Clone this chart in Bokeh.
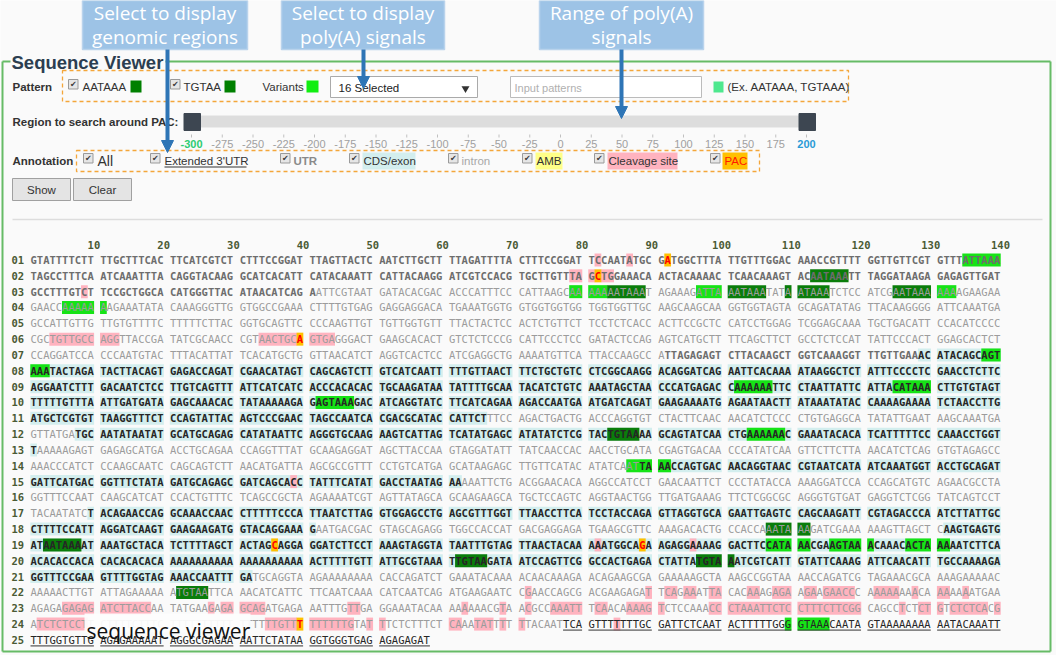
#!/usr/bin/python3

from bokeh.plotting import figure
from bokeh.models import Range1d, ColumnDataSource, Arrow, NormalHead
from bokeh.core.properties import value
from bokeh.embed import file_html
from bokeh.resources import INLINE

SANS = "Liberation Sans"
MONO = "DejaVu Sans Mono"
CALLOUT = "Open Sans"

# ---- sequence, 140 nt per row, shown in groups of 10 ----
seq_rows = [
	"GTATTTTCTT TTGCTTTCAC TTCATCGTCT CTTTCCGGAT TTAGTTACTC AATCTTGCTT TTAGATTTTA CTTTCCGGAT TCCAATATGC GATGGCTTTA TTGTTTGGAC AAACCGTTTT GGTTGTTCGT GTTTATTAAA",
	"TAGCCTTTCA ATCAAATTTA CAGGTACAAG GCATCACATT CATACAAATT CATTACAAGG ATCGTCCACG TGCTTGTTTA GCTGGAAACA ACTACAAAAC TCAACAAAGT ACAATAAATT TAGGATAAGA GAGAGTTGAT",
	"GCCTTTGTCT TCCGCTGGCA CATGGGTTAC ATAACATCAG AATTCGTAAT GATACACGAC ACCCATTTCC CATTAAGCAA AAAAATAAAT AGAAAGATTA AATAAATATA ATAAATCTCC ATCGAATAAA AAAAGAAGAA",
	"GAACCAAAAA AAGAAATATA CAAAGGGTTG GTGGCCGAAA CTTTTGTGAG GAGGAGGACA TGAAATGGTG GTGGTGGTGG TGGTGGTTGC AAGCAAGCAA GGTGGTAGTA GCAGATATAG TTACAAGGGG ATTCAAATGA",
	"GCCATTGTTG TTGTGTTTTC TTTTTCTTAC GGTGCAGTTC CCCAAGTTGT TGTTGGTGTT TTACTACTCC ACTCTGTTCT TCCTCTCACC ACTTCCGCTC CATCCTGGAG TCGGAGCAAA TGCTGACATT CCACATCCCC",
	"CGCTGTTGCC AGGTTACCGA TATCGCAACC CGTAACTGCA GTGAGGGACT GAAGCACACT GTCTCTCCCG CATTCCCTCC GATACTCCAG AGTCATGCTT TTCAGCTTCT GCCTCTCCAT TATTCCCACT GGAGCACTCT",
	"CCAGGATCCA CCCAATGTAC TTTACATTAT TCACATGCTG GTTAACATCT AGGTCACTCC ATCGAGGCTG AAAATGTTCA TTACCAAGCC ATTAGAGAGT CTTACAAGCT GGTCAAAGGT TTGTTGAAAC ATACAGCAGT",
	"AAATACTAGA TACTTACAGT GAGACCAGAT CGAACATAGT CAGCAGTCTT GTCATCAATT TTTGTTAACT TTCTGCTGTC CTCGGCAAGG ACAGGATCAG AATTCACAAA ATAAGGCTCT ATTTCCCCTC GAACCTCTTC",
	"AGGAATCTTT GACAATCTCC TTGTCAGTTT ATTCATCATC ACCCACACAC TGCAAGATAA TATTTTGCAA TACATCTGTC AAATAGCTAA CCCATGAGAC CAAAAAATTC CTAATTATTC ATTACATAAA CTTGTGTAGT",
	"TTTTTGTTTA ATTGATGATA GAGCAAACAC TATAAAAAGA GAGTAAAGAC ATCAGGTATC TTCATCAGAA AGACCAATGA ATGATCAGAT GAAGAAAATG AGAATAACTT ATAAATATAC CAAAAGAAAA TCTAACCTTG",
	"ATGCTCGTGT TAAGGTTTCT CCAGTATTAC AGTCCCGAAC TAGCCAATCA CGACGCATAC CATTCTTTCC AGACTGACTG ACCCAGGTGT CTACTTCAAC AACATCTCCC CTGTGAGGCA TATATTGAAT AAGCAAATGA",
	"GTTATGATGC AATATAATAT GCATGCAGAG CATATAATTC AGGGTGCAAG AAGTCATTAG TCATATGAGC ATATATCTCG TACTGTAAAA GCAGTATCAA CTGAAAAAAC GAAATACACA TCATTTTTCC CAAACCTGGT",
	"TAAAAAGAGT GAGAGCATGA ACCTGCAGAA CCAGGTTTAT GCAAGAGGAT AGCTTACCAA GTAGGATATT TATCAACCAC AACCTGCATA CGAGTGACAA CCCATATCAA GTTCTTCTTA AACATCTCAG GTGTAGAGCC",
	"AAACCCATCT CCAAGCAATC CAGCAGTCTT AACATGATTA AGCGCCGTTT CCTGTCATGA GCATAAGAGC TTGTTCATAC ATATCAATTA AACCAGTGAC AACAGGTAAC CGTAATCATA ATCAAATGGT ACCTGCAGAT",
	"GATTCATGAC GGTTTCTATA GATGCAGAGC GATCAGCACC TATTTCATAT GACCTAATAG AAAAATTCTG ACGGAACACA AGGCCATCCT GAACAATTCT CCCTATACCA AAAGGATCCA CCAGCATGTC AGAACGCCTA",
	"GGTTTCCAAT CAAGCATCAT CCACTGTTTC TCAGCCGCTA AGAAAATCGT AGTTATAGCA GCAAGAAGCA TGCTCCAGTC AGGTAACTGG TTGATGAAAG TTCTCGGCGC AGGGTGTGAT GAGGTCTCGG TATCAGTCCT",
	"TACAATATCT ACAGAACCAG GCAAACCAAC CTTTTTCCCA TTAATCTTAG GTGGAGCCTG AGCGTTTGGT TTAACCTTCA TCCTACCAGA GTTAGGTGCA GAATTGAGTC CAGCAAGATT CGTAGACCCA ATCTTATTGC",
	"CTTTTCCATT AGGATCAAGT GAAGAAGATG GTACAGGAAA GAATGACGAC GTAGCAGAGG TGGCCACCAT GACGAGGAGA TGAAGCGTTC AAAGACACTG CCACCAAATA AAGATCGAAA AAAGTTAGCT CAAGTGAGTG",
	"ATAATAAAAT AAATGCTACA TCTTTTAGCT ACTAGCAGGA GGATCTTCCT AAAGTAGGTA TAATTTGTAG TTAACTACAA AAATGGCAGA AGAGGAAAAG GACTTCCATA AACGAAGTAA ACAAACACTA AAAATCTTCA",
	"ACACACCACA CACACACACA AAAAAAAAAA AAAAAAAAAA ACTTTTTGTT ATTGCGTAAA TTGTAAGATA ATCCAGTTCG GCCACTGAGA CTATTATGTA AATCGTCATT GTATTCAAAG ATTCAACATT TGCCAAAAGA",
	"GGTTTCCGAA GTTTTGGTAG AAACCAATTT GATGCAGGTA AGAAAAAAAA CACCAGATCT GAAATACAAA ACAACAAAGA ACAGAAGCGA GAAAAAGCTA AAGCCGGTAA AACCAGATCG TAGAAACGCA AAAGAAAAAC",
	"AAAAACTTGT ATTAGAAAAA ATGTAATTCA AACATCATTC TTCAATCAAA CATCAATCAG ATGAAGAATC CGAACCAGCG ACGAAGAGAT TCAGAAATTA CACAAAGAGA AGAAGAACCC AAAAAAAACA AAAAAATGAA",
	"AGAGAGAGAG ATCTTACCAA TATGAAGAGA GCAGATGAGA AATTTGTTGA GGAAATACAA AAAAAACGTA ACGCCAAATT TCAACAAAAG TCTCCAAACC CTAAATTCTC CTTTCTTCGG CAGCCTCTCT GTCTCTCACG",
	"ATCTCTCCTT CTTTTCTTTC TTTTTTTTTT TTTTTTGTTT TTTTTTGTAT TTCTCTTTCT CAAATATTTT TTACAATTCA GTTTTTTTGC GATTCTCAAT ACTTTTTGGG GTAAACAATA GTAAAAAAAA AATACAAATT",
	"TTTGGTGTTG AGAGAAAAAT AGGGCGAGAA AATTCTATAA GGTGGGTGAG AGAGAGAT",
]

# annotation spans: (row, first col, last col), 0-based, inclusive
utr_spans = [(1, 0, 139), (2, 0, 139), (3, 0, 40), (7, 91, 127)]
cds_spans = [(7, 128, 139), (8, 0, 139), (9, 0, 139), (10, 0, 139), (11, 0, 65), (12, 7, 139),
	(13, 0, 0), (14, 88, 139), (15, 0, 61), (17, 9, 139), (18, 0, 40), (18, 131, 139),
	(19, 0, 139), (20, 0, 139), (21, 0, 31)]
ext_utr_spans = [(24, 77, 139), (25, 0, 57)]

# poly(A) signals
signal_hits = [(2, 112, 117), (3, 83, 88), (3, 100, 105), (3, 109, 114), (3, 124, 129), (12, 83, 87),
	(18, 106, 111), (19, 2, 7), (20, 61, 65), (20, 96, 100), (22, 21, 25)]
variant_hits = [(1, 134, 139), (3, 78, 82), (3, 96, 99), (3, 130, 132), (4, 5, 10), (7, 137, 139),
	(8, 0, 2), (9, 101, 106), (9, 124, 129), (10, 41, 46), (12, 103, 108), (14, 86, 91),
	(19, 106, 111), (19, 115, 120), (19, 126, 131), (24, 109, 114)]
cleavage_hits = [(1, 81, 81), (1, 86, 86), (2, 78, 80), (2, 82, 83), (3, 8, 8), (6, 3, 12),
	(6, 33, 38), (6, 40, 43), (15, 38, 38), (19, 81, 81), (19, 95, 95),
	(22, 71, 71), (22, 89, 89), (22, 91, 92), (22, 94, 95), (22, 98, 99), (22, 103, 104),
	(22, 107, 109), (22, 111, 112), (22, 114, 118), (22, 121, 124), (22, 127, 127),
	(22, 130, 131), (22, 134, 134),
	(23, 5, 9), (23, 10, 17), (23, 26, 26), (23, 28, 33), (23, 46, 47), (23, 62, 62),
	(23, 68, 68), (23, 71, 71), (23, 75, 79), (23, 81, 82), (23, 86, 90), (23, 98, 119),
	(23, 125, 125), (23, 128, 130), (23, 132, 137), (23, 139, 139),
	(24, 1, 8), (24, 34, 38), (24, 40, 46), (24, 49, 50), (24, 60, 61), (24, 64, 66),
	(24, 68, 68), (24, 70, 70), (24, 84, 84)]
pac_sites = [(1, 91), (2, 81), (6, 39), (19, 35), (19, 88), (24, 39)]

col_labels = [10, 20, 30, 40, 50, 60, 70, 80, 90, 100, 110, 120, 130, 140]
row_labels = ["%02d" % (i + 1) for i in range(len(seq_rows))]
slider_ticks = [-300, -275, -250, -225, -200, -175, -150, -125, -100, -75, -50, -25,
	0, 25, 50, 75, 100, 125, 150, 175, 200]
slider_sel = (-300, 200)

callouts = [["Select to display", "genomic regions"],
	["Select to display", "poly(A) signals"],
	["Range of poly(A)", "signals"]]

colors = {
	'utr': "#6d6d6d", 'intron': "#9c9c9c", 'cds': "#262626", 'ext': "#262626", 'pac': "#ff0000",
	'cds_bg': "#d3eeee", 'signal': "#0a7d0a", 'variant': "#16e316", 'cleavage': "#ffb3bf",
	'pac_bg': "#ffc000", 'amb': "#ffff88", 'frame': "#66bb66", 'orange': "#f4a63a",
	'callout': "#9dc3e6", 'arrow': "#2e75b6", 'num': "#4a5a34",
}

# grid of the sequence viewer (screen pixels of the page)
X0, CW = 30.0, 6.34
Y0, DY = 259.0, 15.83

def cx(i):
	return X0 + (i + i // 10) * CW

def ry(r):
	return Y0 + (r - 1) * DY

def split_groups(s, e):
	# cut a span where the 10 nt groups break
	a = s
	while a <= e:
		b = min(e, (a // 10) * 10 + 9)
		yield a, b
		a = b + 1

p = figure(width=1056, height=655, x_range=Range1d(0, 1056), y_range=Range1d(655, 0),
	output_backend="svg", toolbar_location=None, min_border=0,
	x_axis_location=None, y_axis_location=None)
p.grid.visible = False
p.outline_line_color = None
p.background_fill_color = "#fafafa"
p.border_fill_color = "#fafafa"

def label(x, y, txt, size=11.5, color="#333333", bold=False, font=SANS, align="left", baseline="middle"):
	p.text(x=[x], y=[y], text=[txt], text_font=value(font), text_font_size="%spx" % size,
		text_color=color, text_font_style="bold" if bold else "normal",
		text_align=align, text_baseline=baseline)

def box(l, r, t, b, fill, line=None, width=1, dash="solid", alpha=1.0):
	p.quad(left=[l], right=[r], top=[t], bottom=[b], fill_color=fill, fill_alpha=alpha,
		line_color=line, line_width=width, line_dash=dash)

def checkbox(x, y):
	box(x, x + 9.5, y - 5, y + 4.5, "#e6e6e6", "#9a9a9a")
	label(x + 4.8, y - 0.3, "\u2714", size=8, color="#3a3a3a", font="DejaVu Sans", align="center")

# ---- sequence viewer ----
rows = [r.replace(" ", "") for r in seq_rows]
region = [['intron'] * len(r) for r in rows]
for kind, spans in (('utr', utr_spans), ('cds', cds_spans), ('ext', ext_utr_spans)):
	for r, s, e in spans:
		for i in range(s, e + 1):
			region[r - 1][i] = kind
pac_set = set(pac_sites)

bg = {'l': [], 'r': [], 't': [], 'b': [], 'c': []}
def add_bg(r, s, e, color):
	for a, b in split_groups(s, e):
		bg['l'].append(cx(a) - 0.2)
		bg['r'].append(cx(b) + CW + 0.2)
		bg['t'].append(ry(r) - 6)
		bg['b'].append(ry(r) + 7)
		bg['c'].append(color)

for ri, reg in enumerate(region):
	i = 0
	while i < len(reg):
		if reg[i] == 'cds':
			j = i
			while j + 1 < len(reg) and reg[j + 1] == 'cds':
				j += 1
			add_bg(ri + 1, i, j, colors['cds_bg'])
			i = j + 1
		else:
			i += 1
for r, s, e in cleavage_hits:
	add_bg(r, s, e, colors['cleavage'])
for r, s, e in variant_hits:
	add_bg(r, s, e, colors['variant'])
for r, s, e in signal_hits:
	add_bg(r, s, e, colors['signal'])
for r, i in pac_sites:
	add_bg(r, i, i, colors['pac_bg'])
p.quad(left='l', right='r', top='t', bottom='b', fill_color='c', line_color=None,
	source=ColumnDataSource(dict(l=bg['l'], r=bg['r'], t=bg['t'], b=bg['b'], c=bg['c'])))

# runs of text with one style, never crossing a group break
runs = {k: {'x': [], 'y': [], 'text': []} for k in ('utr', 'intron', 'cds', 'ext', 'pac')}
under = {'x0': [], 'x1': [], 'y': []}
for ri, row in enumerate(rows):
	r = ri + 1
	start = 0
	for i in range(1, len(row) + 1):
		key_prev = 'pac' if (r, i - 1) in pac_set else region[ri][i - 1]
		key_cur = None
		if i < len(row):
			key_cur = 'pac' if (r, i) in pac_set else region[ri][i]
		if i == len(row) or i % 10 == 0 or key_cur != key_prev:
			runs[key_prev]['x'].append(cx(start))
			runs[key_prev]['y'].append(ry(r) + 0.5)
			runs[key_prev]['text'].append(row[start:i])
			start = i
	for a, b in split_groups(0, len(row) - 1):
		if region[ri][a] == 'ext' or region[ri][b] == 'ext':
			s = a
			while region[ri][s] != 'ext':
				s += 1
			under['x0'].append(cx(s))
			under['x1'].append(cx(b) + CW)
			under['y'].append(ry(r) + 6.5)

styles = {'utr': 'bold', 'intron': 'normal', 'cds': 'bold', 'ext': 'normal', 'pac': 'bold'}
for k, d in runs.items():
	p.text(x='x', y='y', text='text', source=ColumnDataSource(d), text_font=value(MONO),
		text_font_size="10.5px", text_color=colors[k], text_font_style=styles[k],
		text_align="left", text_baseline="middle")
p.segment(x0='x0', y0='y', x1='x1', y1='y', source=ColumnDataSource(under), line_color="#333333", line_width=1)

# column numbers and row numbers
p.text(x=[cx(c - 1) + CW for c in col_labels], y=[244] * len(col_labels), text=[str(c) for c in col_labels],
	text_font=value(MONO), text_font_size="10.5px", text_font_style="bold", text_color=colors['num'],
	text_align="center", text_baseline="middle")
p.text(x=[11] * len(row_labels), y=[ry(i + 1) + 0.5 for i in range(len(row_labels))], text=row_labels,
	text_font=value(MONO), text_font_size="10.5px", text_font_style="bold", text_color=colors['num'],
	text_align="left", text_baseline="middle")

# "sequence viewer" note over row 24
box(84, 250, 613, 632, "#fdfdfd", alpha=0.93)
label(86, 630, "sequence viewer", size=21, color="#111111", font=CALLOUT, baseline="alphabetic")

# ---- panel frame ----
p.segment(x0=[2, 165, 1050, 2, 2], y0=[61, 61, 61, 651, 61], x1=[10, 1050, 1050, 1050, 2],
	y1=[61, 61, 651, 651, 651], line_color=colors['frame'], line_width=2)
label(11, 62, "Sequence Viewer", size=18.5, color="#2c3e50", bold=True)

# pattern row
label(12, 86, "Pattern", bold=True)
box(62, 848, 70, 101, None, colors['orange'], 1.3, "4 3")
checkbox(68, 84)
label(82, 86, "AATAAA")
box(130, 141, 80, 92, "#008000")
checkbox(170, 84)
label(183, 86, "TGTAA")
box(224, 235, 80, 92, "#008000")
label(262, 86, "Variants")
box(306, 318, 80, 92, "#11ee11")
box(330, 477, 76, 97, "#ffffff", "#aaaaaa")
label(338, 87, "16 Selected", size=11.5, color="#222222")
p.scatter(x=[465], y=[88], marker="inverted_triangle", size=8, fill_color="#333333", line_color=None)
box(510, 701, 76, 97, "#ffffff", "#bbbbbb")
label(514, 87, "Input patterns", size=11, color="#b0b0b0")
box(713, 723, 81, 92, "#4ee88e")
label(727, 86, "(Ex. AATAAA, TGTAAA)")

# slider row
label(12, 121, "Region to search around PAC:", bold=True)
box(185, 810, 115, 127, "#dddddd")
lo, hi = slider_ticks[0], slider_ticks[-1]
sx = lambda v: 191 + (v - lo) / (hi - lo) * (806 - 191)
p.segment(x0=[sx(v) for v in slider_ticks], y0=[134] * len(slider_ticks), x1=[sx(v) for v in slider_ticks],
	y1=[137] * len(slider_ticks), line_color="#c0c0c0", line_width=1)
for v in slider_ticks:
	if v == slider_sel[0]:
		label(sx(v), 143, str(v), size=11, color="#2ecc71", bold=True, align="center")
	elif v == slider_sel[1]:
		label(sx(v), 143, str(v), size=11, color="#2b9bd6", bold=True, align="center")
	else:
		label(sx(v), 143, str(v), size=11, color="#a0a0a0", align="center")
for v in slider_sel:
	box(sx(v) - 7.5, sx(v) + 9, 113, 130, "#3d4651", "#3d4651")

# annotation row
label(12, 160, "Annotation", bold=True)
box(76, 759, 150, 171, None, colors['orange'], 1.3, "4 3")
checkbox(83, 158)
label(97, 160, "All", size=14)
checkbox(150, 158)
label(164, 160, "Extended 3'UTR")
p.segment(x0=[164], y0=[166.5], x1=[246], y1=[166.5], line_color="#333333", line_width=1)
checkbox(280, 158)
label(293, 160, "UTR", bold=True, color="#8a8a8a")
checkbox(349, 158)
box(362, 415, 152, 169, colors['cds_bg'])
label(363, 160, "CDS/exon")
checkbox(448, 158)
label(461, 160, "intron", color="#a8a8a8")
checkbox(522, 158)
box(535, 562, 152, 169, colors['amb'])
label(536, 160, "AMB")
checkbox(594, 158)
box(607, 677, 152, 169, colors['cleavage'])
label(608, 160, "Cleavage site")
checkbox(710, 158)
box(722, 747, 152, 169, colors['pac_bg'])
label(724, 160, "PAC", color="#ff1a00")

# buttons
box(12, 70, 178, 200, "#e4e4e4", "#a0a0a0")
label(41, 189, "Show", size=11.5, align="center")
box(73, 131, 178, 200, "#e4e4e4", "#a0a0a0")
label(102, 189, "Clear", size=11.5, align="center")
p.segment(x0=[12], y0=[219], x1=[1042], y1=[219], line_color="#dddddd", line_width=1.5)

# ---- callouts with arrows ----
for (l, r), lines in zip([(82, 247), (281, 444), (539, 703)], callouts):
	box(l, r, 0, 49, colors['callout'], "#b9d3ec", 1.5)
	label((l + r) / 2, 12, lines[0], size=19, color="#ffffff", font=CALLOUT, align="center")
	label((l + r) / 2, 36.5, lines[1], size=19, color="#ffffff", font=CALLOUT, align="center")

for x, tip in [(167, 152), (363, 88), (621, 118)]:
	p.add_layout(Arrow(end=NormalHead(size=12, fill_color=colors['arrow'], line_color=colors['arrow']),
		x_start=x, y_start=49, x_end=x, y_end=tip, line_color=colors['arrow'], line_width=4))

open("out.html", "w").write(file_html(p, INLINE))
